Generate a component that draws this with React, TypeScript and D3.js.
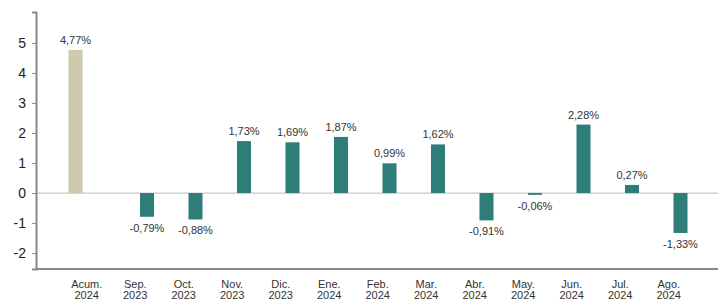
import * as d3 from "d3";
import { useEffect, useRef } from "react";

const categories = [
  ["Acum.", "2024"],
  ["Sep.", "2023"],
  ["Oct.", "2023"],
  ["Nov.", "2023"],
  ["Dic.", "2023"],
  ["Ene.", "2024"],
  ["Feb.", "2024"],
  ["Mar.", "2024"],
  ["Abr.", "2024"],
  ["May.", "2024"],
  ["Jun.", "2024"],
  ["Jul.", "2024"],
  ["Ago.", "2024"],
];
// acumulado (first series) only on the first category
const acumValues = [4.77, null, null, null, null, null, null, null, null, null, null, null, null];
const monthlyValues = [null, -0.79, -0.88, 1.73, 1.69, 1.87, 0.99, 1.62, -0.91, -0.06, 2.28, 0.27, -1.33];
const yTicks = [-2, -1, 0, 1, 2, 3, 4, 5];
const seriesNames = ["acum", "mensual"];

const W = 718;
const H = 302;

const fmt = (v: number) => v.toFixed(2).replace(".", ",") + "%";

export default function App() {
  const ref = useRef<SVGSVGElement>(null);

  useEffect(() => {
    const svg = d3.select(ref.current);
    svg.selectAll("*").remove();

    const axisX = 36;
    const x0 = d3
      .scaleBand()
      .domain(categories.map((_, i) => String(i)))
      .range([62.5, 693]);
    const x1 = d3
      .scaleBand()
      .domain(seriesNames)
      .range([6, 43])
      .paddingInner(0.39);
    const y = d3.scaleLinear().domain([-2.53, 6.03]).range([269, 12]);

    svg.append("rect").attr("width", W).attr("height", H).attr("fill", "#fff");

    // zero line
    svg.append("line")
      .attr("x1", axisX).attr("x2", W)
      .attr("y1", y(0)).attr("y2", y(0))
      .attr("stroke", "#c9c9c9").attr("stroke-width", 1.2);

    // y axis
    const yAxis = d3.axisLeft(y).tickValues(yTicks).tickSize(4).tickPadding(6).tickFormat(d => String(d));
    const gy = svg.append("g").attr("transform", `translate(${axisX},0)`).call(yAxis);
    gy.select(".domain").attr("stroke", "#8a8a8a").attr("stroke-width", 2);
    gy.selectAll(".tick line").attr("stroke", "#8a8a8a");
    gy.selectAll(".tick text")
      .attr("font-family", "Liberation Sans, Arial, sans-serif")
      .attr("font-size", 14)
      .attr("fill", "#222");

    // x axis line
    svg.append("line")
      .attr("x1", axisX - 1).attr("x2", W)
      .attr("y1", 269).attr("y2", 269)
      .attr("stroke", "#8a8a8a").attr("stroke-width", 2);

    const series = [
      { key: "acum", values: acumValues, color: "#cfc9ae" },
      { key: "mensual", values: monthlyValues, color: "#2f7d79" },
    ];

    series.forEach(s => {
      const data = s.values
        .map((v, i) => ({ v, i }))
        .filter(d => d.v !== null) as { v: number; i: number }[];

      svg.selectAll(`.bar-${s.key}`)
        .data(data)
        .enter()
        .append("rect")
        .attr("x", d => x0(String(d.i))! + x1(s.key)!)
        .attr("y", d => y(Math.max(0, d.v)))
        .attr("width", x1.bandwidth())
        .attr("height", d => Math.abs(y(d.v) - y(0)))
        .attr("fill", s.color);

      svg.selectAll(`.lbl-${s.key}`)
        .data(data)
        .enter()
        .append("text")
        .attr("x", d => x0(String(d.i))! + x1(s.key)! + x1.bandwidth() / 2)
        .attr("y", d => (d.v >= 0 ? y(d.v) - 6 : y(d.v) + 15))
        .attr("text-anchor", "middle")
        .attr("font-family", "Liberation Sans, Arial, sans-serif")
        .attr("font-size", 11)
        .attr("fill", "#333")
        .text(d => fmt(d.v));
    });

    // category labels
    const cat = svg.selectAll(".cat")
      .data(categories)
      .enter()
      .append("text")
      .attr("text-anchor", "middle")
      .attr("font-family", "Liberation Sans, Arial, sans-serif")
      .attr("font-size", 11)
      .attr("fill", "#333");
    cat.append("tspan")
      .attr("x", (_, i) => x0(String(i))! + x0.bandwidth() / 2)
      .attr("y", 288)
      .text(d => d[0]);
    cat.append("tspan")
      .attr("x", (_, i) => x0(String(i))! + x0.bandwidth() / 2)
      .attr("y", 299)
      .text(d => d[1]);
  }, []);

  return (
    <div style={{ position: "absolute", left: 0, top: 0 }}>
      <svg ref={ref} width={W} height={H} style={{ display: "block" }} />
    </div>
  );
}
